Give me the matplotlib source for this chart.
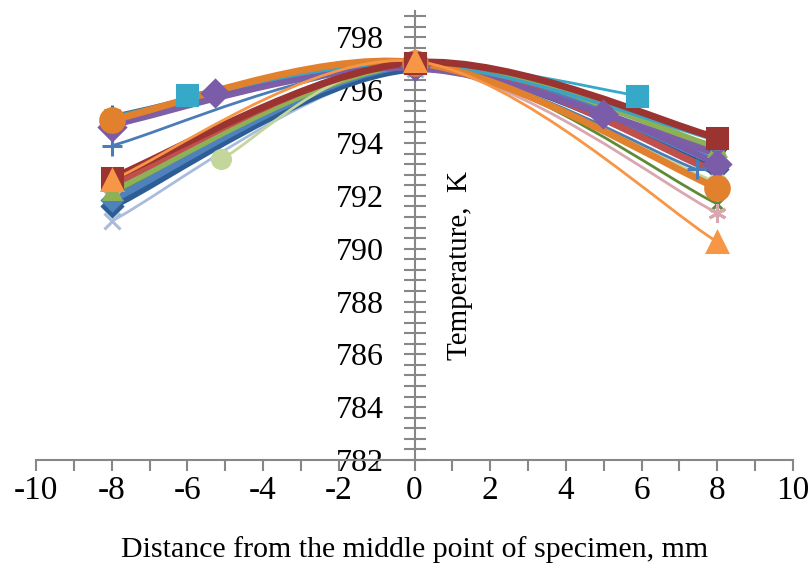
import matplotlib
matplotlib.use("Agg")
import matplotlib.pyplot as plt
from matplotlib.path import Path
from matplotlib.patches import PathPatch
from matplotlib.ticker import MultipleLocator

plt.rcParams['font.family'] = ['Liberation Serif', 'DejaVu Serif']

# ---- data (distance mm, temperature K) ----
s_blue_diamond_x = [-8, 0, 8]
s_blue_diamond_y = [791.85, 796.95, 793.3]
s_darkred_square_x = [-8, 0, 8]
s_darkred_square_y = [792.68, 797.05, 794.2]
s_green_triangle_x = [-8, 0, 8]
s_green_triangle_y = [792.2, 797.0, 793.8]
s_purple_x_x = [-8, 0, 8]
s_purple_x_y = [794.7, 796.85, 793.6]
s_teal_star_x = [-8, 0, 8]
s_teal_star_y = [795.0, 797.0, 794.1]
s_orange_circle_x = [-8, 0, 8]
s_orange_circle_y = [794.88, 797.05, 792.3]
s_blue_plus_x = [-8, 0, 7.46]
s_blue_plus_y = [793.9, 796.9, 793.0]
s_navy_diamond_x = [-8, 0, 8]
s_navy_diamond_y = [791.6, 796.8, 793.0]
s_red_circle_x = [-8, 0, 8]
s_red_circle_y = [792.45, 797.0, 792.9]
s_orange_triangle_x = [-8, 0, 8]
s_orange_triangle_y = [792.6, 797.1, 790.26]
s_teal_square_x = [-6, 0, 5.88]
s_teal_square_y = [795.83, 797.05, 795.8]
s_purple_diamond_x = [-8, -5.27, 0, 4.97, 8]
s_purple_diamond_y = [794.6, 795.9, 796.9, 795.1, 793.2]
s_lightgreen_circle_x = [-5.1, 0, 8]
s_lightgreen_circle_y = [793.4, 797.0, 792.5]
s_lightblue_x_x = [-8, 0, 8]
s_lightblue_x_y = [791.05, 796.8, 792.8]
s_pink_star_x = [-8, 0, 8]
s_pink_star_y = [792.3, 796.9, 791.35]
s_darkgreen_x_x = [-8, 0, 8]
s_darkgreen_x_y = [792.0, 796.95, 791.7]
s_gray_star_x = [-8, 0, 8]
s_gray_star_y = [795.05, 796.95, 793.9]

# (x, y, colour, marker, line width, marker size)
series = [
    (s_gray_star_x, s_gray_star_y, '#4F6178', (6, 2, 0), 2.0, 14),
    (s_lightblue_x_x, s_lightblue_x_y, '#A9BCDD', 'x', 2.0, 11),
    (s_darkgreen_x_x, s_darkgreen_x_y, '#5F8A35', 'x', 2.0, 10),
    (s_pink_star_x, s_pink_star_y, '#D8A7B0', (6, 2, 0), 2.0, 13),
    (s_navy_diamond_x, s_navy_diamond_y, '#2C5E95', 'D', 5.0, 10),
    (s_blue_diamond_x, s_blue_diamond_y, '#4F81BD', 'D', 5.0, 10),
    (s_green_triangle_x, s_green_triangle_y, '#8DB255', '^', 5.0, 11),
    (s_red_circle_x, s_red_circle_y, '#C0504D', 'o', 5.0, 7),
    (s_lightgreen_circle_x, s_lightgreen_circle_y, '#C3D69B', 'o', 2.0, 13),
    (s_blue_plus_x, s_blue_plus_y, '#4A7DB8', '+', 2.0, 14),
    (s_purple_x_x, s_purple_x_y, '#7E5FA6', 'x', 5.0, 10),
    (s_purple_diamond_x, s_purple_diamond_y, '#7B5CA8', 'D', 4.0, 13),
    (s_teal_square_x, s_teal_square_y, '#36A9C8', 's', 2.0, 14),
    (s_teal_star_x, s_teal_star_y, '#3DA3C0', (6, 2, 0), 2.5, 14),
    (s_orange_circle_x, s_orange_circle_y, '#E1802D', 'o', 5.0, 17),
    (s_darkred_square_x, s_darkred_square_y, '#9B3431', 's', 5.0, 15),
    (s_orange_triangle_x, s_orange_triangle_y, '#F79646', '^', 2.0, 14),
]


def smooth_path(xs, ys):
    pts = list(zip(xs, ys))
    n = len(pts)
    verts = [pts[0]]
    codes = [Path.MOVETO]
    for i in range(n - 1):
        p0 = pts[i - 1] if i > 0 else pts[i]
        p1 = pts[i]
        p2 = pts[i + 1]
        p3 = pts[i + 2] if i + 2 < n else pts[i + 1]
        c1 = (p1[0] + (p2[0] - p0[0]) / 6.0, p1[1] + (p2[1] - p0[1]) / 6.0)
        c2 = (p2[0] - (p3[0] - p1[0]) / 6.0, p2[1] - (p3[1] - p1[1]) / 6.0)
        verts += [c1, c2, p2]
        codes += [Path.CURVE4] * 3
    return Path(verts, codes)


fig = plt.figure(figsize=(8.11, 5.66), dpi=100)
ax = fig.add_axes([36 / 811, 1 - 460 / 566, (793 - 36) / 811, (460 - 11) / 566])
ax.set_xlim(-10, 10)
ax.set_ylim(782, 799)

for k, (xs, ys, col, mk, lw, ms) in enumerate(series):
    ax.add_patch(PathPatch(smooth_path(xs, ys), fill=False, edgecolor=col,
                           lw=lw, capstyle='round', joinstyle='round', zorder=2 + k * 0.01))
for k, (xs, ys, col, mk, lw, ms) in enumerate(series):
    ax.plot(xs, ys, ls='none', marker=mk, ms=ms, color=col, mec=col,
            mew=2.2, zorder=3 + k * 0.01)

axis_col = '#878787'
for s in ['top', 'right']:
    ax.spines[s].set_visible(False)
ax.spines['left'].set_position(('data', 0))
ax.spines['left'].set_color(axis_col)
ax.spines['left'].set_linewidth(1.5)
ax.spines['bottom'].set_color(axis_col)
ax.spines['bottom'].set_linewidth(1.5)

ax.xaxis.set_major_locator(MultipleLocator(2))
ax.xaxis.set_minor_locator(MultipleLocator(1))
ax.yaxis.set_major_locator(MultipleLocator(2))
ax.yaxis.set_minor_locator(MultipleLocator(0.4))
ax.tick_params(axis='x', which='both', direction='out', length=8, width=1.5,
               color=axis_col, labelsize=24, pad=3)
ax.tick_params(axis='y', which='both', direction='inout', length=16, width=1.5,
               color=axis_col, labelsize=23, pad=14)
ax.set_xticks(range(-10, 11, 2))
ax.set_xticklabels([str(v) for v in range(-10, 11, 2)])
ax.set_yticks(range(782, 799, 2))

ax.set_xlabel('Distance from the middle point of specimen, mm', fontsize=21.5, labelpad=22)
fig.text(460 / 811, 1 - 265 / 566, 'Temperature,  K', rotation=90,
         ha='center', va='center', fontsize=21)

fig.savefig('out.png', dpi=100)
